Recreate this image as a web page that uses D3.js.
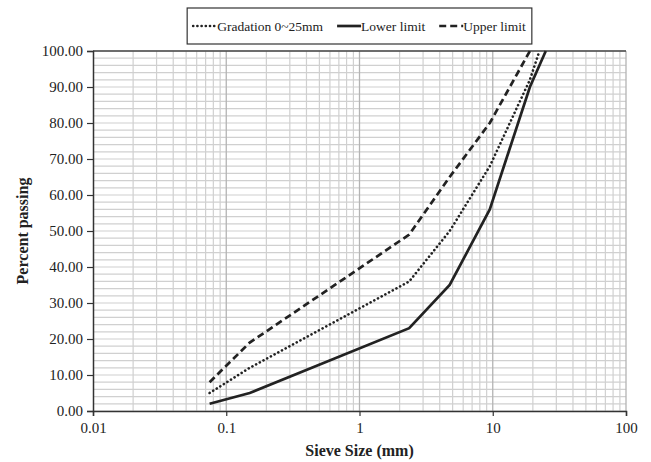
<!DOCTYPE html>
<html><head><meta charset="utf-8">
<script src="https://cdn.jsdelivr.net/npm/d3@7"></script>
<style>body{margin:0;background:#fff}svg{display:block}text{font-family:"Liberation Serif","Times New Roman",serif;fill:#222}</style>
</head><body><svg id="c" width="651" height="462"></svg>
<script>
const gradationSizes = [0.075, 0.15, 2.36, 4.75, 9.5, 19, 22.4];
const gradationValues = [5, 12, 36, 50, 68, 92, 100];
const lowerSizes = [0.075, 0.15, 2.36, 4.75, 9.5, 19, 25];
const lowerValues = [2, 5, 23, 35, 56, 90, 100];
const upperSizes = [0.075, 0.15, 2.36, 4.75, 9.5, 19];
const upperValues = [8, 19, 49, 65, 80, 100];
const xTicks = [0.01, 0.1, 1, 10, 100];
const yTicks = [0, 10, 20, 30, 40, 50, 60, 70, 80, 90, 100];
const seriesNames = ["Gradation 0~25mm", "Lower limit", "Upper limit"];

const svg = d3.select("#c");
const L = 93, R = 626, T = 51, B = 411;
const x = d3.scaleLog().domain([0.01, 100]).range([L, R]);
const y = d3.scaleLinear().domain([0, 100]).range([B, T]);

// grid
const g = svg.append("g");
const minorY = d3.range(0, 101, 2);
g.selectAll("line.hy").data(minorY).join("line")
  .attr("x1", L).attr("x2", R).attr("y1", d => y(d)).attr("y2", d => y(d))
  .attr("stroke", "#d0d0d0").attr("stroke-width", 1.2);
const minorX = [];
[0.01, 0.1, 1, 10].forEach(d => { for (let k = 2; k <= 9; k++) minorX.push(d * k); });
g.selectAll("line.vx").data(minorX).join("line")
  .attr("x1", d => x(d)).attr("x2", d => x(d)).attr("y1", T).attr("y2", B)
  .attr("stroke", "#d0d0d0").attr("stroke-width", 1.2);
g.selectAll("line.mx").data(xTicks.slice(1)).join("line")
  .attr("x1", d => x(d)).attr("x2", d => x(d)).attr("y1", T).attr("y2", B)
  .attr("stroke", "#b4b4b4").attr("stroke-width", 1.3);
// top border
svg.append("line").attr("x1", L).attr("x2", R).attr("y1", T).attr("y2", T)
  .attr("stroke", "#444").attr("stroke-width", 1.3);

// axes
const yAxis = d3.axisLeft(y).tickValues(yTicks).tickFormat(d3.format(".2f")).tickSize(6).tickPadding(4);
const ya = svg.append("g").attr("transform", `translate(${L},0)`).call(yAxis);
const xAxis = d3.axisBottom(x).tickValues(xTicks).tickFormat(d => String(d)).tickSize(5).tickPadding(6);
const xa = svg.append("g").attr("transform", `translate(0,${B})`).call(xAxis);
[ya, xa].forEach(a => {
  a.select(".domain").attr("stroke", "#333").attr("stroke-width", 1.5);
  a.selectAll(".tick line").attr("stroke", "#333").attr("stroke-width", 1.2);
  a.selectAll("text").attr("font-size", 15).attr("fill", "#222");
});

// lines
const line = d3.line().x(d => x(d[0])).y(d => y(d[1]));
const mk = (s, v) => s.map((d, i) => [d, v[i]]);
const styles = [
  {data: mk(gradationSizes, gradationValues), dash: "0.1 4.1", cap: "round", w: 2.6},
  {data: mk(lowerSizes, lowerValues), dash: null, cap: "butt", w: 2.7},
  {data: mk(upperSizes, upperValues), dash: "7 4", cap: "butt", w: 2.7}
];
styles.forEach(s => {
  svg.append("path").attr("d", line(s.data)).attr("fill", "none")
    .attr("stroke", "#222").attr("stroke-width", s.w)
    .attr("stroke-dasharray", s.dash).attr("stroke-linecap", s.cap);
});

// titles
svg.append("text").attr("x", (L + R) / 2).attr("y", 456).attr("text-anchor", "middle")
  .attr("font-size", 16).attr("font-weight", "bold").text("Sieve Size (mm)");
svg.append("text").attr("transform", `translate(28,${(T + B) / 2}) rotate(-90)`)
  .attr("text-anchor", "middle").attr("font-size", 16).attr("font-weight", "bold").text("Percent passing");

// legend
const lg = svg.append("g");
let cx = 0;
const tmp = lg.append("g");
seriesNames.forEach((n, i) => {
  const it = tmp.append("g");
  it.append("line").attr("x1", 0).attr("x2", 24).attr("y1", 0).attr("y2", 0)
    .attr("stroke", "#222").attr("stroke-width", styles[i].w)
    .attr("stroke-dasharray", styles[i].dash).attr("stroke-linecap", styles[i].cap);
  const t = it.append("text").attr("x", 24).attr("y", 4.5).attr("font-size", 13.5).text(n);
  const w = 24 + t.node().getComputedTextLength();
  it.attr("transform", `translate(${cx},0)`);
  cx += w + 14;
});
const totalW = cx - 14;
const boxW = totalW + 12;
const bx = (L + R) / 2 - boxW / 2;
lg.insert("rect", ":first-child").attr("x", bx).attr("y", 8).attr("width", boxW).attr("height", 36)
  .attr("fill", "#fff").attr("stroke", "#333").attr("stroke-width", 1.2);
tmp.attr("transform", `translate(${bx + 6},26)`);
</script></body></html>
